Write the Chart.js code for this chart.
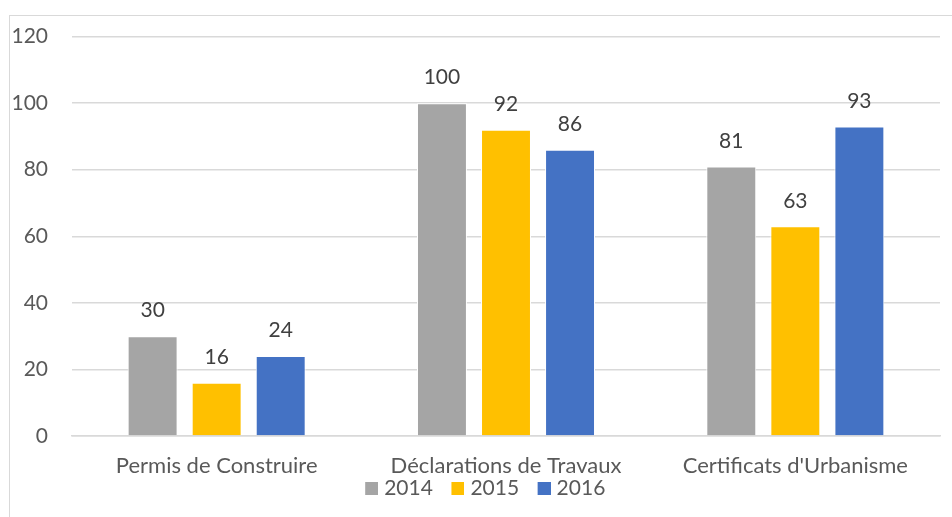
<!DOCTYPE html>
<html>
<head>
<meta charset="utf-8">
<script src="https://cdn.jsdelivr.net/npm/chart.js@4.4.1/dist/chart.umd.min.js"></script>
<style>
  html, body { margin: 0; padding: 0; background: #fff; overflow: hidden; }
  #wrap { position: relative; width: 952px; height: 517px; }
  #frame { position: absolute; left: 9px; top: 15px; width: 1000px; height: 600px; border: 1px solid #d9d9d9; }
  canvas { position: absolute; left: 0; top: 0; }
</style>
</head>
<body>
<div id="wrap">
  <div id="frame"></div>
  <canvas id="barChart" width="952" height="517"></canvas>
</div>
<script>
// donnees
const categories = ["Permis de Construire", "Déclarations de Travaux", "Certificats d'Urbanisme"];
const years = ["2014", "2015", "2016"];
const values2014 = [30, 100, 81];
const values2015 = [16, 92, 63];
const values2016 = [24, 86, 93];
const yTicks = [0, 20, 40, 60, 80, 100, 120];
const colors = ["#A5A5A5", "#FFC000", "#4472C4"];

const FONT = "Lato, 'Open Sans', sans-serif";
const SIZE = 21;
const X_PAD = 19;

// carre de legende : image plus large que l'item pour rapprocher le carre du texte
const legendMark = (color) => {
  const c = document.createElement("canvas");
  c.width = 36;
  c.height = 13;
  const g = c.getContext("2d");
  g.fillStyle = color;
  g.fillRect(23, 0, 13, 13);
  return c;
};

// affiche la valeur au-dessus de chaque barre
const valueLabels = {
  id: "valueLabels",
  afterDatasetsDraw(chart) {
    const ctx = chart.ctx;
    ctx.save();
    ctx.font = SIZE + "px " + FONT;
    ctx.fillStyle = "#404040";
    ctx.textAlign = "center";
    ctx.textBaseline = "bottom";
    chart.data.datasets.forEach((ds, i) => {
      chart.getDatasetMeta(i).data.forEach((bar, j) => {
        ctx.fillText(ds.data[j], bar.x, bar.y - 15);
      });
    });
    ctx.restore();
  },
};

const makeDataset = (i, data) => ({
  label: years[i],
  data: data,
  backgroundColor: colors[i],
  borderColor: "#fff",
  borderWidth: 1,
  pointStyle: legendMark(colors[i]),
});

new Chart(document.getElementById("barChart"), {
  type: "bar",
  data: {
    labels: categories,
    datasets: [makeDataset(0, values2014), makeDataset(1, values2015), makeDataset(2, values2016)],
  },
  options: {
    responsive: false,
    animation: false,
    layout: {padding: {left: 12, right: 12, top: 33, bottom: 8}},
    datasets: {
      bar: {categoryPercentage: 0.664, barPercentage: 0.78},
    },
    scales: {
      x: {
        grid: {display: false, tickLength: 0},
        border: {display: true, color: "#d9d9d9", width: 1.5},
        ticks: {font: {family: FONT, size: 22, lineHeight: 1}, color: "#595959", padding: X_PAD},
        // pas de double marge sous les libelles
        afterFit: (axis) => {
          axis.height = X_PAD + 23;
        },
      },
      y: {
        min: 0,
        max: 120,
        afterBuildTicks: (axis) => {
          axis.ticks = yTicks.map((v) => ({value: v}));
        },
        afterFit: (axis) => {
          axis.width = 60;
        },
        grid: {color: "#d9d9d9", lineWidth: 1.5, drawTicks: false},
        border: {display: false},
        ticks: {font: {family: FONT, size: SIZE}, color: "#595959", padding: 24},
      },
    },
    plugins: {
      tooltip: {enabled: false},
      legend: {
        position: "bottom",
        labels: {
          usePointStyle: true,
          pointStyleWidth: 27,
          boxHeight: 13,
          padding: 0,
          font: {family: FONT, size: SIZE, lineHeight: 1},
          color: "#595959",
        },
      },
    },
  },
  plugins: [valueLabels],
});
</script>
</body>
</html>
